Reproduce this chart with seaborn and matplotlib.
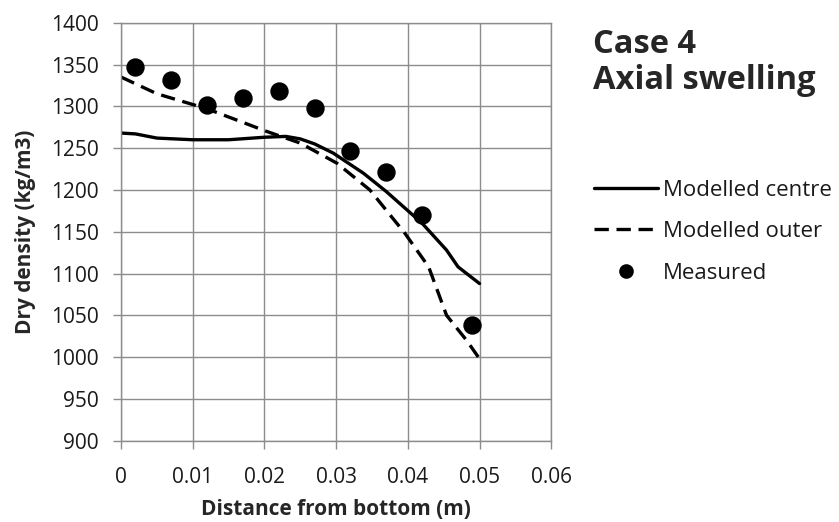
import matplotlib
matplotlib.use("Agg")
import matplotlib.pyplot as plt
import seaborn as sns
import pandas as pd
from matplotlib.lines import Line2D

# Data
centre_x = [0.0, 0.002, 0.005, 0.01, 0.015, 0.02, 0.023, 0.025, 0.027, 0.0296, 0.0338, 0.037, 0.042, 0.0454, 0.047, 0.050]
centre_y = [1268, 1267, 1262, 1260, 1260, 1263, 1264, 1261, 1255, 1244, 1220, 1198, 1160, 1128, 1108, 1088]

outer_x = [0.0, 0.005, 0.012, 0.0203, 0.025, 0.0301, 0.0347, 0.0396, 0.0429, 0.0454, 0.0482, 0.050]
outer_y = [1335, 1315, 1297, 1270, 1256, 1232, 1200, 1148, 1108, 1050, 1020, 998]

meas_x = [0.002, 0.007, 0.012, 0.017, 0.022, 0.027, 0.032, 0.037, 0.042, 0.049]
meas_y = [1347, 1331, 1301, 1310, 1318, 1298, 1247, 1222, 1170, 1038]

x_ticks = [0, 0.01, 0.02, 0.03, 0.04, 0.05, 0.06]
x_ticklabels = ["0", "0.01", "0.02", "0.03", "0.04", "0.05", "0.06"]
y_ticks = list(range(900, 1401, 50))

sns.set_theme(style="white")
plt.rcParams['font.family'] = ['Open Sans', 'DejaVu Sans']

DASH = (0, (4.3, 2.3))

fig = plt.figure(figsize=(8.39, 5.22), dpi=100)
ax = fig.add_axes([0.1443, 0.1557, 0.657 - 0.1443, 0.9565 - 0.1557])

dc = pd.DataFrame({"x": centre_x, "y": centre_y})
do = pd.DataFrame({"x": outer_x, "y": outer_y})
dm = pd.DataFrame({"x": meas_x, "y": meas_y})

sns.lineplot(data=dc, x="x", y="y", ax=ax, color="black", lw=2.4, sort=False)
sns.lineplot(data=do, x="x", y="y", ax=ax, color="black", lw=2.4, sort=False,
             linestyle=DASH)
sns.scatterplot(data=dm, x="x", y="y", ax=ax, color="black", s=150, edgecolor="black", zorder=5)

ax.set_xlim(0, 0.06)
ax.set_ylim(900, 1400)
ax.set_xticks(x_ticks)
ax.set_xticklabels(x_ticklabels)
ax.set_yticks(y_ticks)
ax.grid(True, color="#8c8c8c", lw=1.0)
for s in ax.spines.values():
    s.set_color("#8c8c8c")
    s.set_linewidth(1.0)
ax.tick_params(axis="both", which="both", length=6, width=1.0, color="#8c8c8c",
               labelsize=15, labelcolor="#1a1a1a", left=True, bottom=True)
ax.tick_params(axis="y", pad=10)
ax.tick_params(axis="x", pad=13)
ax.set_xlabel("Distance from bottom (m)", fontsize=15, fontweight="bold", labelpad=8)
ax.set_ylabel("Dry density (kg/m3)", fontsize=15, fontweight="bold", labelpad=11)

fig.text(0.707, 1 - 53 / 522, "Case 4", fontsize=23.5, fontweight="bold", va="baseline", ha="left")
fig.text(0.707, 1 - 89 / 522, "Axial swelling", fontsize=23.5, fontweight="bold", va="baseline", ha="left")

handles = [
    Line2D([], [], color="black", lw=2.4),
    Line2D([], [], color="black", lw=2.4, linestyle=DASH),
    Line2D([], [], color="black", marker="o", markersize=9.5, lw=0),
]
fig.legend(handles, ["Modelled centre", "Modelled outer", "Measured"],
           loc="upper left", bbox_to_anchor=(0.684, 0.694), frameon=False,
           fontsize=16, handlelength=2.9, handletextpad=0.2, labelspacing=0.92,
           labelcolor="#1a1a1a")

fig.savefig("out.png", dpi=100)
